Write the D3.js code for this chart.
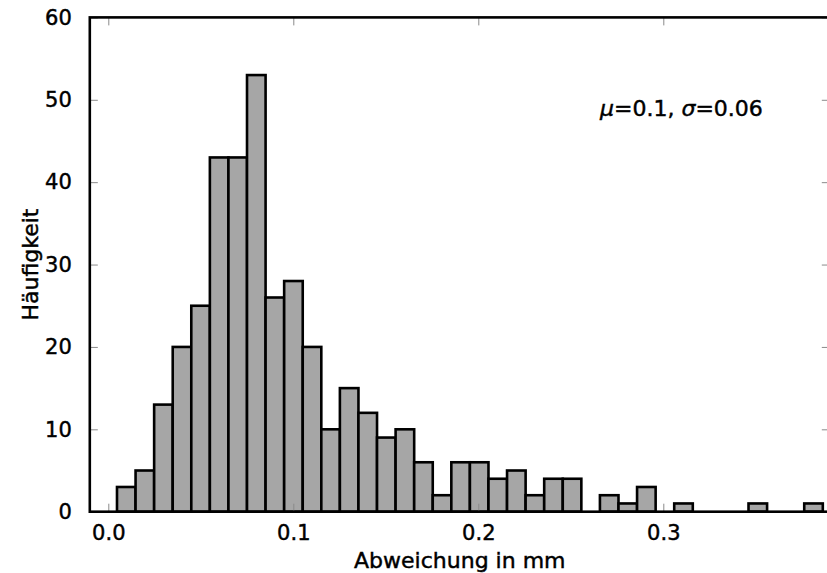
<!DOCTYPE html>
<html>
<head>
<meta charset="utf-8">
<script src="https://cdn.jsdelivr.net/npm/d3@7"></script>
<style>
  body { margin: 0; background: #fff; }
  text { font-family: "DejaVu Sans", sans-serif; stroke: #000; stroke-width: 0.45px; }
</style>
</head>
<body>
<div class="canvas"></div>
<script>
// histogram data
let binStart = 0.0047;
let binWidth = 0.01004;
let counts = [3, 5, 13, 20, 25, 43, 43, 53, 26, 28, 20, 10, 15, 12, 9, 10, 6, 2, 6, 6,
              4, 5, 2, 4, 4, 0, 2, 1, 3, 0, 1, 0, 0, 0, 1, 0, 0, 1];
let xTicks = [0.0, 0.1, 0.2, 0.3];
let yTicks = [0, 10, 20, 30, 40, 50, 60];
let xDomain = [-0.01, 0.39];
let yDomain = [0, 60];
let xLabel = 'Abweichung in mm';
let yLabel = 'Häufigkeit';

let width = 827;
let height = 573;
const plot = { left: 89.8, right: 829.8, top: 17.4, bottom: 511.7 };
let fontSize = 21;

let bins = counts.map((c, i) => ({
  x0: binStart + i * binWidth,
  x1: binStart + (i + 1) * binWidth,
  count: c
}));

let svg = d3.select('.canvas')
  .append('svg')
  .attr('width', width)
  .attr('height', height);

let xScale = d3.scaleLinear()
  .domain(xDomain)
  .range([plot.left, plot.right]);

let yScale = d3.scaleLinear()
  .domain(yDomain)
  .range([plot.bottom, plot.top]);

svg.append('clipPath')
  .attr('id', 'plot-clip')
  .append('rect')
  .attr('x', plot.left)
  .attr('y', plot.top)
  .attr('width', plot.right - plot.left)
  .attr('height', plot.bottom - plot.top);

// bars
svg.append('g')
  .attr('clip-path', 'url(#plot-clip)')
  .selectAll('rect')
  .data(bins)
  .enter()
  .append('rect')
  .attr('x', d => xScale(d.x0))
  .attr('y', d => yScale(d.count))
  .attr('width', d => xScale(d.x1) - xScale(d.x0))
  .attr('height', d => yScale(0) - yScale(d.count))
  .attr('fill', '#a6a6a6')
  .attr('stroke', '#000')
  .attr('stroke-width', 2.6);

// ticks, matplotlib classic style: inside, on all four sides
let tickLen = 8;
let tickColor = '#8a8a8a';

let axisBottom = d3.axisBottom(xScale).tickValues(xTicks).tickSize(-tickLen).tickPadding(tickLen + 5).tickFormat(d3.format('.1f'));
let axisTop = d3.axisTop(xScale).tickValues(xTicks).tickSize(-tickLen).tickFormat('');
let axisLeft = d3.axisLeft(yScale).tickValues(yTicks).tickSize(-tickLen).tickPadding(tickLen + 10).tickFormat(d3.format('d'));
let axisRight = d3.axisRight(yScale).tickValues(yTicks).tickSize(-tickLen).tickFormat('');

function styleAxis(g) {
  g.select('.domain').remove();
  g.selectAll('.tick line').attr('stroke', tickColor).attr('stroke-width', 1);
  g.selectAll('.tick text')
    .attr('fill', '#000')
    .style('font-size', fontSize + 'px')
    .style('font-family', '"DejaVu Sans", sans-serif');
}

svg.append('g')
  .attr('transform', `translate(0, ${plot.bottom})`)
  .call(axisBottom)
  .call(styleAxis);

svg.append('g')
  .attr('transform', `translate(0, ${plot.top})`)
  .call(axisTop)
  .call(styleAxis);

svg.append('g')
  .attr('transform', `translate(${plot.left}, 0)`)
  .call(axisLeft)
  .call(styleAxis);

svg.append('g')
  .attr('transform', `translate(${plot.right}, 0)`)
  .call(axisRight)
  .call(styleAxis);

// spines
svg.append('rect')
  .attr('x', plot.left)
  .attr('y', plot.top)
  .attr('width', plot.right - plot.left)
  .attr('height', plot.bottom - plot.top)
  .attr('fill', 'none')
  .attr('stroke', '#000')
  .attr('stroke-width', 2.6);

// axis labels
svg.append('text')
  .attr('x', (plot.left + plot.right) / 2)
  .attr('y', 568)
  .attr('text-anchor', 'middle')
  .style('font-size', '22px')
  .text(xLabel);

svg.append('text')
  .attr('transform', 'rotate(-90)')
  .attr('x', -(plot.top + plot.bottom) / 2)
  .attr('y', 38)
  .attr('text-anchor', 'middle')
  .style('font-size', '22px')
  .text(yLabel);

// annotation with mean and std
let note = svg.append('text')
  .attr('x', 600)
  .attr('y', 115.5)
  .style('font-size', '22px');
note.append('tspan').style('font-style', 'italic').text('μ');
note.append('tspan').text('=0.1, ');
note.append('tspan').style('font-style', 'italic').text('σ');
note.append('tspan').text('=0.06');
</script>
</body>
</html>
